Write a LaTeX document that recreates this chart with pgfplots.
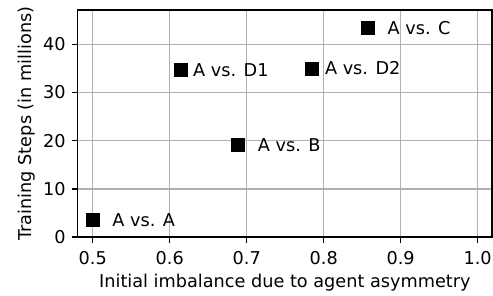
\documentclass[border=0pt]{standalone}
\usepackage{pgfplots}
\pgfplotsset{compat=1.18}
\usepackage{pgfplotstable}
\usetikzlibrary{calc}
\usepackage{fontspec}
\setmainfont{DejaVu Sans}
\definecolor{gridgray}{HTML}{B0B0B0}
\pgfplotstableread{
x y label dx
0.500 3.6 {A vs. A} 11.6
0.614 34.6 {A vs. D1} 7.4
0.689 19.15 {A vs. B} 11.6
0.784 35.0 {A vs. D2} 8.0
0.8576 43.4 {A vs. C} 11.6
}\datatable
\begin{document}
\begin{tikzpicture}
\begin{axis}[
  scale only axis,
  width=248.4pt, height=136.2pt,
  xmin=0.4805, xmax=1.0186,
  ymin=0, ymax=47.1,
  xtick={0.5,0.6,0.7,0.8,0.9,1.0},
  xticklabels={0.5,0.6,0.7,0.8,0.9,1.0},
  ytick={0,10,20,30,40},
  /pgf/number format/assume math mode=true,
  grid=major,
  major grid style={gridgray, line width=0.9pt},
  axis line style={black, line width=0.9pt},
  tick style={black, line width=0.9pt},
  tick align=outside,
  major tick length=3.7pt,
  tick pos=left,
  ticklabel style={font=\fontsize{10.6pt}{12pt}\selectfont},
  label style={font=\fontsize{10.6pt}{12pt}\selectfont},
  xlabel={Initial imbalance due to agent asymmetry},
  ylabel={Training Steps (in millions)},
  xlabel style={yshift=1pt},
  ylabel style={yshift=-2pt},
  xticklabel style={yshift=-1pt},
]
\addplot[
  only marks, mark=square*, mark size=3.9pt, black,
  mark options={draw=none, fill=black},
  point meta=explicit symbolic,
  nodes near coords={\pgfplotspointmeta},
  visualization depends on={\thisrow{dx} \as \dx},
  every node near coord/.append style={anchor=west, inner sep=0pt, xshift=\dx pt, yshift=0pt, font=\fontsize{10.6pt}{12pt}\selectfont, text=black},
] table[x=x, y=y, meta=label] {\datatable};
\end{axis}
\pgfresetboundingbox
\path ($(current axis.south west)+(-46.6pt,-34.8pt)$) rectangle ($(current axis.north east)+(0.6pt,6pt)$);
\end{tikzpicture}
\end{document}
